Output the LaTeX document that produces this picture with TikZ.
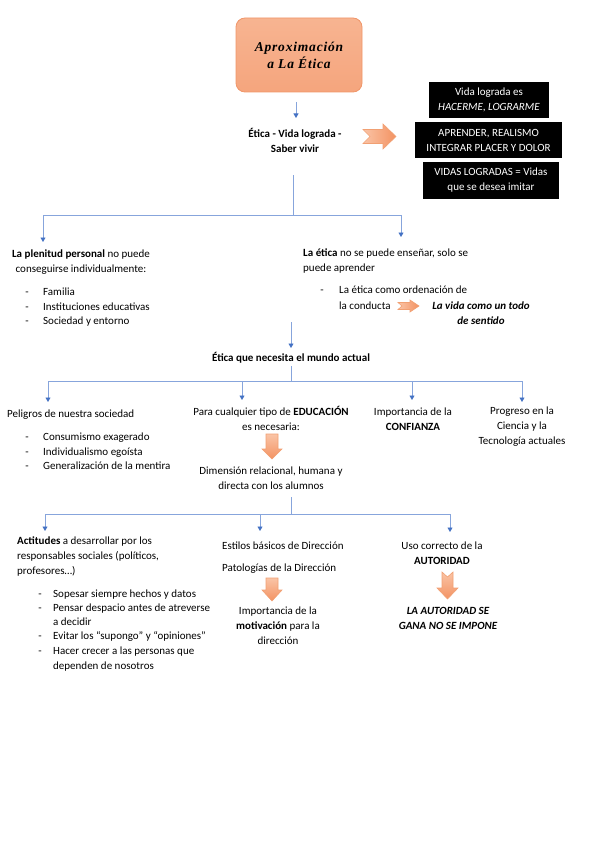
\documentclass[tikz,border=0pt]{standalone}
\usepackage{fontspec}
\setmainfont{Carlito}
\newfontfamily\titlefont[LetterSpace=6]{Liberation Serif}
\usetikzlibrary{arrows.meta}
\definecolor{bline}{RGB}{135,165,220}
\definecolor{btip}{RGB}{68,114,196}
\definecolor{otop}{RGB}{250,196,166}
\definecolor{obot}{RGB}{243,146,98}
\definecolor{oedge}{RGB}{241,160,115}
\definecolor{ttop}{RGB}{247,180,145}
\definecolor{tbot}{RGB}{245,165,125}
\definecolor{tedge}{RGB}{240,150,105}
\tikzset{
  txt/.style={inner sep=0pt, font=\fontsize{11}{15}\selectfont},
  ctxt/.style={txt, align=center},
  ltxt/.style={txt, align=left},
  item/.style={txt, anchor=west, text height=8pt, text depth=2pt},
  blackbox/.style={fill=black, text=white, inner sep=0pt, align=center, font=\fontsize{11}{15}\selectfont},
  bl/.style={draw=bline, line width=0.9pt},
  blar/.style={bl, -{Triangle[width=5pt,length=4.5pt,color=btip]}},
  oarrow/.style={draw=oedge, line width=0.6pt, top color=otop, bottom color=obot},
  rarrow/.style={draw=oedge, line width=0.6pt, left color=otop, right color=obot},
}
\begin{document}
\begin{tikzpicture}[x=1pt,y=-1pt]
\useasboundingbox (0,0) rectangle (599,848);
% title
\node[draw=tedge, line width=0.8pt, rounded corners=9pt, top color=ttop, bottom color=tbot,
      minimum width=126pt, minimum height=74pt, align=center, inner sep=0pt,
      font=\titlefont\fontsize{13.5}{17}\selectfont\bfseries\itshape] (title) at (299,55) {Aproximación\\a La Ética};
\node[ctxt, font=\fontsize{11}{15}\selectfont\bfseries] (etica) at (295,140.5) {Ética - Vida lograda -\\Saber vivir};
\coordinate (a0) at (296,102);
\coordinate (a1) at (296,118);
\draw[blar] (a0) -- (a1);
% right block arrow
\path[rarrow] (363,129.5) -- (383,129.5) -- (383,124) -- (396,136.5) -- (383,149) -- (383,143.5) -- (363,143.5) -- (370,136.5) -- cycle;
% black boxes
\node[blackbox, minimum width=120pt, minimum height=36pt] (bb1) at (489,100) {Vida lograda es\\\textit{HACERME, LOGRARME}};
\node[blackbox, minimum width=147pt, minimum height=36pt] (bb2) at (488.5,140) {APRENDER, REALISMO\\INTEGRAR PLACER Y DOLOR};
\node[blackbox, minimum width=136pt, minimum height=37pt] (bb3) at (491,180.5) {VIDAS LOGRADAS = Vidas\\que se desea imitar};
% tree 1
\coordinate (t1a) at (293,175);
\coordinate (t1b) at (293,215);
\coordinate (t1l) at (43,215);
\coordinate (t1r) at (401,215);
\coordinate (t1le) at (43,242);
\coordinate (t1re) at (401,237);
\draw[bl] (t1a) -- (t1b);
\draw[bl] (t1l) -- (t1r);
\draw[blar] (t1l) -- (t1le);
\draw[blar] (t1r) -- (t1re);
\node[ctxt] (plenitud) at (81,262.5) {\textbf{La plenitud personal} no puede\\conseguirse individualmente:};
\node[item, anchor=center] (d1) at (27,292) {-};
\node[item, anchor=center] (d2) at (27,307) {-};
\node[item, anchor=center] (d3) at (27,321) {-};
\node[item] (i1) at (43,292) {Familia};
\node[item] (i2) at (43,307) {Instituciones educativas};
\node[item] (i3) at (43,321) {Sociedad y entorno};
\node[ltxt, anchor=west] (ensenar) at (303,261) {\textbf{La ética} no se puede enseñar, solo se\\puede aprender};
\node[item, anchor=center] (d4) at (322,290) {-};
\node[item] (i4) at (339,290) {La ética como ordenación de};
\node[item] (i5) at (339,306) {la conducta};
\path[rarrow] (398,302.5) -- (410,302.5) -- (410,300) -- (419,306) -- (410,312) -- (410,309.5) -- (398,309.5) -- (402,306) -- cycle;
\node[ctxt, font=\fontsize{11}{15}\selectfont\bfseries\itshape] (vida) at (481,313) {La vida como un todo\\de sentido};
% tree 2
\coordinate (t2a) at (291,322);
\coordinate (t2b) at (291,348);
\draw[blar] (t2a) -- (t2b);
\node[ctxt, font=\fontsize{11}{15}\selectfont\bfseries] (mundo) at (291,358) {Ética que necesita el mundo actual};
% tree 3
\coordinate (t3a) at (291,366);
\coordinate (t3b) at (291,381);
\coordinate (t3l) at (48,381);
\coordinate (t3r) at (522,381);
\coordinate (t3m1) at (242,381);
\coordinate (t3m2) at (412,381);
\coordinate (t3le) at (48,402);
\coordinate (t3m1e) at (242,400);
\coordinate (t3m2e) at (412,400);
\coordinate (t3re) at (522,402);
\draw[bl] (t3a) -- (t3b);
\draw[bl] (t3l) -- (t3r);
\draw[blar] (t3l) -- (t3le);
\draw[blar] (t3m1) -- (t3m1e);
\draw[blar] (t3m2) -- (t3m2e);
\draw[blar] (t3r) -- (t3re);
\node[item] (peligros) at (7,414) {Peligros de nuestra sociedad};
\node[item, anchor=center] (d5) at (27,437) {-};
\node[item, anchor=center] (d6) at (27,452) {-};
\node[item, anchor=center] (d7) at (27,466) {-};
\node[item] (i6) at (43,437) {Consumismo exagerado};
\node[item] (i7) at (43,452) {Individualismo egoísta};
\node[item] (i8) at (43,466) {Generalización de la mentira};
\node[ctxt] (educacion) at (271,418) {Para cualquier tipo de \textbf{EDUCACIÓN}\\es necesaria:};
\path[oarrow] (266,434) -- (278,434) -- (278,449) -- (282,449) -- (272,459) -- (262,449) -- (266,449) -- cycle;
\node[ctxt] (dimension) at (271,478) {Dimensión relacional, humana y\\directa con los alumnos};
\node[ctxt] (confianza) at (413,419.5) {Importancia de la\\\textbf{CONFIANZA}};
\node[ctxt] (progreso) at (522,426.5) {Progreso en la\\Ciencia y la\\Tecnología actuales};
% tree 4
\coordinate (t4a) at (291,497);
\coordinate (t4b) at (291,514);
\coordinate (t4l) at (45,514);
\coordinate (t4m) at (260,514);
\coordinate (t4r) at (450,514);
\coordinate (t4le) at (45,531);
\coordinate (t4me) at (260,531);
\coordinate (t4re) at (450,532);
\draw[bl] (t4a) -- (t4b);
\draw[bl] (t4l) -- (t4r);
\draw[blar] (t4l) -- (t4le);
\draw[blar] (t4m) -- (t4me);
\draw[blar] (t4r) -- (t4re);
\node[ltxt, anchor=west] (actitudes) at (17,556.5) {\textbf{Actitudes} a desarrollar por los\\responsables sociales (políticos,\\profesores…)};
\node[item, anchor=center] (d8) at (40,594) {-};
\node[item, anchor=center] (d9) at (40,608) {-};
\node[item, anchor=center] (d10) at (40,636) {-};
\node[item, anchor=center] (d11) at (40,651) {-};
\node[item] (i9) at (53,594) {Sopesar siempre hechos y datos};
\node[item] (i10) at (53,608) {Pensar despacio antes de atreverse};
\node[item] (i11) at (53,622) {a decidir};
\node[item] (i12) at (53,636) {Evitar los “supongo” y “opiniones”};
\node[item] (i13) at (53,651) {Hacer crecer a las personas que};
\node[item] (i14) at (53,666) {dependen de nosotros};
\node[item] (estilos) at (222,546) {Estilos básicos de Dirección};
\node[item] (patologias) at (222,568) {Patologías de la Dirección};
\path[oarrow] (266,578) -- (278,578) -- (278,590) -- (282,590) -- (272,601) -- (262,590) -- (266,590) -- cycle;
\node[ctxt] (motivacion) at (278,625.5) {Importancia de la\\\textbf{motivación} para la\\dirección};
\node[ctxt] (uso) at (442,553) {Uso correcto de la\\\textbf{AUTORIDAD}};
\path[oarrow] (442,572) -- (447.5,577) -- (453,572) -- (453,588) -- (458,588) -- (447.5,599) -- (437,588) -- (442,588) -- cycle;
\node[ctxt, font=\fontsize{11}{15}\selectfont\bfseries\itshape] (gana) at (448,618) {LA AUTORIDAD SE\\GANA NO SE IMPONE};
\end{tikzpicture}
\end{document}
